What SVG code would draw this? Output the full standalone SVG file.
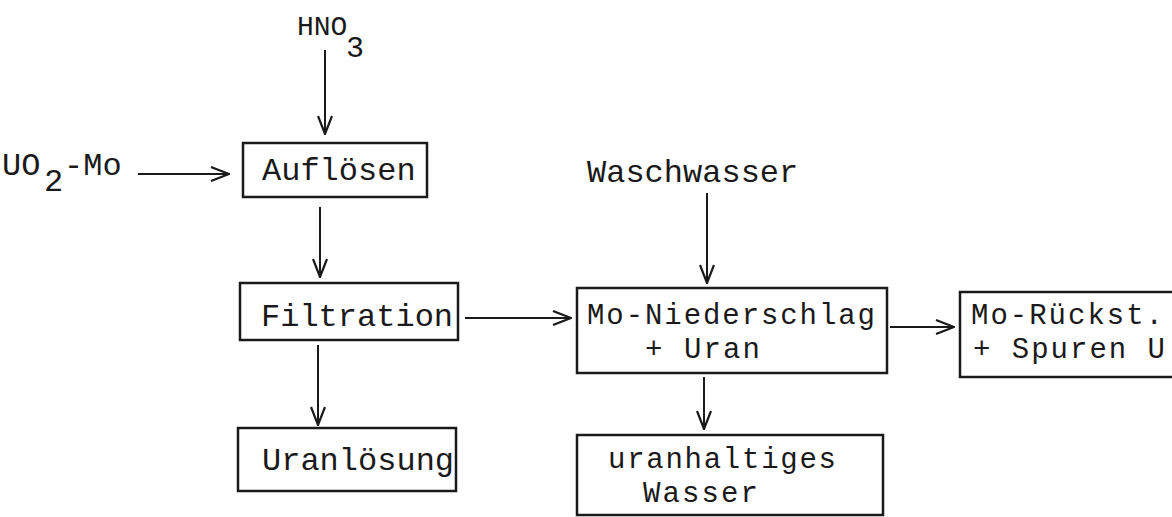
<svg xmlns="http://www.w3.org/2000/svg" width="1172" height="517" viewBox="0 0 1172 517">
<defs>
<marker id="ah" viewBox="0 0 20 16" refX="19" refY="8" markerWidth="20" markerHeight="16" markerUnits="userSpaceOnUse" orient="auto">
<path d="M1,1 L19,8 L1,15" fill="none" stroke="#1a1a1a" stroke-width="2.2"/>
</marker>
<style>
.t{font-family:"Liberation Mono","DejaVu Sans Mono",monospace;font-size:32px;fill:#1a1a1a}
.s{font-size:29px}
.b{fill:none;stroke:#1a1a1a;stroke-width:2.5}
.c{stroke:#1a1a1a;stroke-width:2;fill:none;marker-end:url(#ah)}
</style>
</defs>
<rect width="1172" height="517" fill="#fff"/>
<g id="hno3">
<text class="t" x="297" y="35" style="font-size:28px">HNO<tspan x="346" dy="22" style="font-size:30px">3</tspan></text>
</g>
<g id="uo2mo">
<text class="t" x="2" y="175">UO<tspan x="44" dy="16">2</tspan><tspan x="64" dy="-16">-Mo</tspan></text>
</g>
<g id="waschwasser">
<text class="t" x="587" y="182">Waschwasser</text>
</g>
<g id="aufloesen">
<rect class="b" x="243" y="143" width="184" height="54"/>
<text class="t" x="262" y="180">Auflösen</text>
</g>
<g id="filtration">
<rect class="b" x="240" y="283" width="218" height="57"/>
<text class="t" x="261" y="326">Filtration</text>
</g>
<g id="uranloesung">
<rect class="b" x="238" y="428" width="218" height="63"/>
<text class="t" x="262" y="470">Uranlösung</text>
</g>
<g id="moniederschlag">
<rect class="b" x="577" y="288" width="310" height="85"/>
<text class="t s"><tspan x="587" y="324" textLength="288">Mo-Niederschlag</tspan><tspan x="645" y="358" textLength="115">+ Uran</tspan></text>
</g>
<g id="moruekst">
<rect class="b" x="960" y="292" width="230" height="85"/>
<text class="t s"><tspan x="971" y="324" textLength="192">Mo-Rückst.</tspan><tspan x="973" y="358" textLength="192">+ Spuren U</tspan></text>
</g>
<g id="uranhaltiges">
<rect class="b" x="577" y="435" width="306" height="80"/>
<text class="t s"><tspan x="608" y="468" textLength="228">uranhaltiges</tspan><tspan x="643" y="502" textLength="115">Wasser</tspan></text>
</g>
<g id="connectors">
<line class="c" x1="325" y1="50" x2="325" y2="134"/>
<line class="c" x1="138" y1="174" x2="229" y2="174"/>
<line class="c" x1="320" y1="207" x2="320" y2="277"/>
<line class="c" x1="318" y1="345" x2="318" y2="425"/>
<line class="c" x1="465" y1="318" x2="571" y2="318"/>
<line class="c" x1="707" y1="193" x2="707" y2="283"/>
<line class="c" x1="890" y1="327" x2="954" y2="327"/>
<line class="c" x1="704" y1="377" x2="704" y2="429"/>
</g>
</svg>
